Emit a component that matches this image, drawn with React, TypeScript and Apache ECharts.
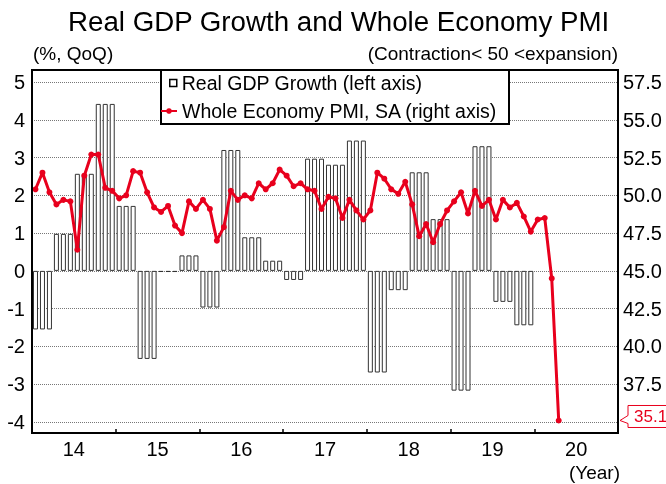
import React, { useEffect, useRef } from 'react';
import * as echarts from 'echarts';

const yearLabels = ['14', '15', '16', '17', '18', '19', '20'];
const yearTickMonths = [0, 12, 24, 36, 48, 60, 72, 84];
const yearLabelMonths = [6, 18, 30, 42, 54, 66, 78];

// Real GDP growth, % QoQ, 2014Q1 - 2019Q4
const gdpQuarterly = [
  -1.55, 0.98, 2.57, 4.42,
  1.72, -2.33, -0.03, 0.41,
  -0.97, 3.2, 0.89, 0.27,
  -0.24, 2.97, 2.81, 3.45,
  -2.69, -0.51, 2.61, 1.37,
  -3.17, 3.3, -0.82, -1.44,
];

// Whole Economy PMI, SA, Jan 2014 - Apr 2020
const pmiMonthly = [
  50.4, 51.5, 50.2, 49.4, 49.7, 49.6, 46.4, 51.3, 52.7, 52.7, 50.5, 50.3,
  49.8, 50.0, 51.6, 51.5, 50.2, 49.2, 48.9, 49.3, 48.0, 47.5, 49.6, 49.1,
  49.7, 49.1, 47.0, 47.9, 50.3, 49.7, 50.0, 49.8, 50.8, 50.4, 50.8, 51.7,
  51.3, 50.6, 50.8, 50.4, 50.3, 49.1, 49.9, 49.8, 48.5, 49.7, 49.0, 48.4,
  49.0, 51.5, 51.1, 50.4, 50.1, 50.9, 49.4, 47.3, 48.1, 46.9, 48.1, 49.0,
  49.6, 50.2, 48.8, 50.3, 49.3, 49.7, 48.4, 49.7, 49.2, 49.5, 48.6, 47.6,
  48.4, 48.5, 44.5, 35.1,
];

const gdpName = 'Real GDP Growth (left axis)';
const pmiName = 'Whole Economy PMI, SA (right axis)';

export default function App() {
  const ref = useRef<HTMLDivElement>(null);
  useEffect(() => {
    const chart = echarts.init(ref.current!, null, { renderer: 'svg' });
    const font = '"Liberation Sans", Arial, sans-serif';
    const red = '#e8001d';

    const barData: number[][] = [];
    gdpQuarterly.forEach((v, q) => {
      for (let m = 0; m < 3; m++) barData.push([q * 3 + m + 0.5, v]);
    });
    const lineData = pmiMonthly.map((v, i) => [i + 0.5, v]);

    const txt = (size: number) => ({
      fontSize: size,
      fontWeight: 'normal',
      color: '#000',
      fontFamily: font,
    });

    chart.setOption({
      animation: false,
      textStyle: { fontFamily: font, color: '#000' },
      title: [
        {
          text: 'Real GDP Growth and Whole Economy PMI',
          left: 68,
          top: 7,
          padding: 0,
          textStyle: txt(27.7),
        },
        { text: '(%, QoQ)', left: 33, top: 44, padding: 0, textStyle: txt(19) },
        {
          text: '(Contraction< 50 <expansion)',
          right: 48,
          top: 44,
          padding: 0,
          textStyle: txt(19),
        },
        { text: '(Year)', right: 46, top: 463, padding: 0, textStyle: txt(19) },
      ],
      legend: [
        {
          data: [
            {
              name: gdpName,
              icon: 'rect',
              itemStyle: { color: '#fff', borderColor: '#000', borderWidth: 1.5 },
            },
          ],
          left: 169,
          top: 73,
          padding: 0,
          itemWidth: 7,
          itemHeight: 7,
          selectedMode: false,
          textStyle: { fontSize: 19.5, color: '#000', fontFamily: font },
        },
        {
          data: [{ name: pmiName }],
          left: 160,
          top: 101,
          padding: 0,
          itemWidth: 16,
          itemHeight: 7,
          selectedMode: false,
          textStyle: { fontSize: 19.5, color: '#000', fontFamily: font },
        },
      ],
      grid: { left: 32, right: 48, top: 82, bottom: 62, containLabel: false },
      xAxis: {
        type: 'value',
        min: 0,
        max: 84,
        interval: 12,
        offset: 11,
        axisLine: { show: false, onZero: false },
        axisTick: {
          show: true,
          inside: true,
          length: 4,
          customValues: yearTickMonths,
          lineStyle: { color: '#000', width: 1.5 },
        },
        axisLabel: {
          customValues: yearLabelMonths,
          formatter: (v: number) => yearLabels[Math.floor(v / 12)],
          fontSize: 20,
          color: '#000',
          margin: 6,
          fontFamily: font,
        },
        splitLine: { show: false },
      },
      yAxis: [
        {
          type: 'value',
          min: -4,
          max: 5,
          interval: 1,
          position: 'left',
          axisLine: { show: false },
          axisTick: { show: false },
          axisLabel: { fontSize: 20, color: '#000', margin: 7, fontFamily: font },
          splitLine: { show: true, lineStyle: { color: '#777', type: 'dotted', width: 1 } },
        },
        {
          type: 'value',
          min: 35,
          max: 57.5,
          interval: 2.5,
          position: 'right',
          axisLine: { show: false },
          axisTick: { show: false },
          axisLabel: {
            fontSize: 20,
            color: '#000',
            margin: 5,
            fontFamily: font,
            showMinLabel: false,
            formatter: (v: number) => v.toFixed(1),
          },
          splitLine: { show: false },
        },
      ],
      series: [
        {
          type: 'bar',
          name: gdpName,
          data: barData,
          yAxisIndex: 0,
          barWidth: 5,
          itemStyle: { color: '#fff', borderColor: '#333', borderWidth: 1 },
          z: 2,
        },
        {
          type: 'line',
          name: pmiName,
          data: lineData,
          yAxisIndex: 1,
          symbol: 'circle',
          symbolSize: 6,
          lineStyle: { color: red, width: 3 },
          itemStyle: { color: red },
          z: 3,
        },
      ],
    });

    const lastVal = pmiMonthly[pmiMonthly.length - 1];
    const py = chart.convertToPixel({ xAxisIndex: 0, yAxisIndex: 1 }, [pmiMonthly.length - 0.5, lastVal])[1];
    const bx = 628;
    chart.setOption({
      graphic: [
        {
          type: 'rect',
          id: 'legendBox',
          shape: { x: 161, y: 70, width: 348, height: 54 },
          style: { fill: '#fff', stroke: '#000', lineWidth: 2 },
          z: 3,
          silent: true,
        },
        {
          type: 'rect',
          id: 'frame',
          shape: { x: 32, y: 70, width: 586, height: 363 },
          style: { fill: 'none', stroke: '#000', lineWidth: 2 },
          z: 10,
          silent: true,
        },
        {
          type: 'polygon',
          id: 'callout',
          shape: {
            points: [
              [bx, py - 15],
              [670, py - 15],
              [670, py + 7],
              [bx, py + 7],
              [bx, py + 3],
              [620, py],
              [bx, py - 5],
            ],
          },
          style: { fill: '#fff', stroke: red, lineWidth: 1 },
          z: 10,
          silent: true,
        },
        {
          type: 'text',
          id: 'calloutText',
          x: 634,
          y: py - 4,
          style: {
            text: lastVal.toFixed(1),
            fill: red,
            fontSize: 17,
            fontFamily: font,
            verticalAlign: 'middle',
            align: 'left',
          },
          z: 11,
          silent: true,
        },
      ],
    });

    return () => chart.dispose();
  }, []);
  return (
    <div
      ref={ref}
      style={{ position: 'fixed', left: 0, top: 0, width: 666, height: 484 }}
    />
  );
}
